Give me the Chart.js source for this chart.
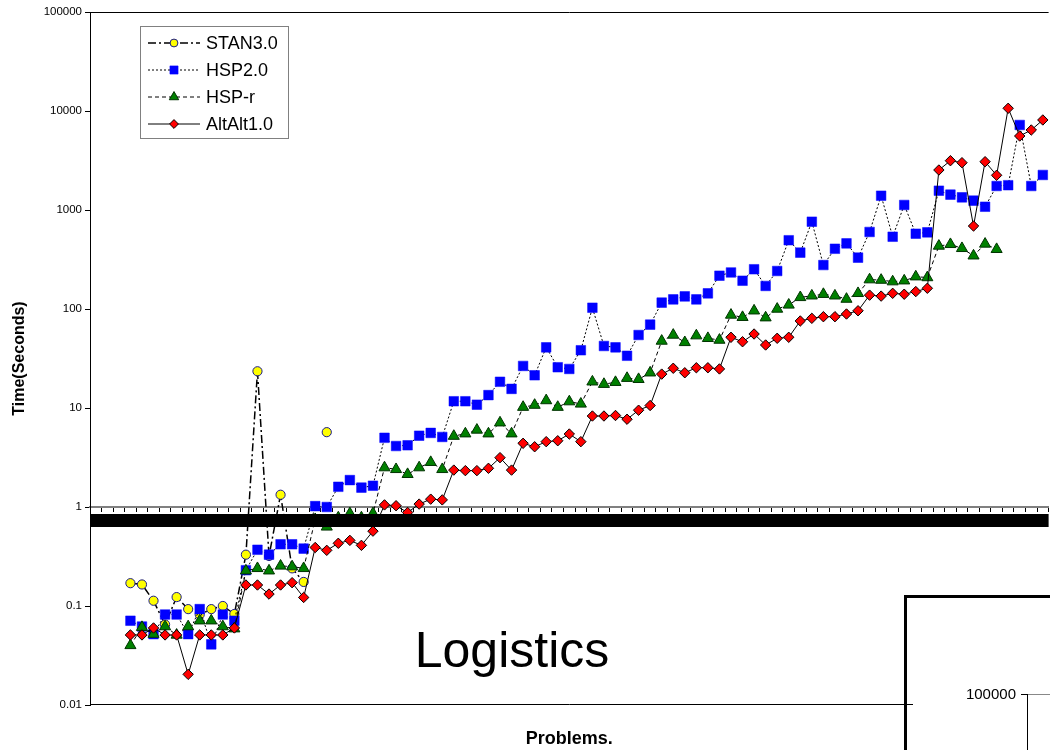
<!DOCTYPE html>
<html>
<head>
<meta charset="utf-8">
<script src="https://cdn.jsdelivr.net/npm/chart.js@4.4.1/dist/chart.umd.min.js"></script>
<style>
html,body{margin:0;padding:0;background:#fff;overflow:hidden;width:1050px;height:750px;}
#wrap{position:absolute;left:0;top:0;width:1056px;height:750px;}
#logistics{position:absolute;left:362px;top:625px;width:300px;text-align:center;font:50px/50px "Liberation Sans",Arial,sans-serif;color:#000;}
#insetFrame{position:absolute;left:904px;top:595px;width:200px;height:200px;border-left:3px solid #000;border-top:3px solid #000;}
#insetFill{position:absolute;left:913px;top:598px;width:200px;height:200px;background:#fff;}
#insetLabel{position:absolute;left:950px;top:686px;width:66px;text-align:right;font:15px/16px "Liberation Sans",Arial,sans-serif;color:#000;}
#insetTick{position:absolute;left:1021px;top:694px;width:7px;height:1px;background:#000;}
#insetAxis{position:absolute;left:1027px;top:694px;width:1px;height:60px;background:#000;}
#insetTop{position:absolute;left:1028px;top:694px;width:40px;height:1px;background:#888;}
</style>
</head>
<body>
<div id="wrap"><canvas id="c" width="1056" height="750"></canvas></div>
<div id="logistics">Logistics</div>
<div id="insetFill"></div>
<div id="insetFrame"></div>
<div id="insetLabel">100000</div>
<div id="insetTick"></div>
<div id="insetAxis"></div>
<div id="insetTop"></div>
<script>
// ---- data ----
const problems = [
 "1","2","3","4","5","6","7","8","9","10",
 "11","12","13","14","15","16","17","18","19","20",
 "21","22","23","24","25","26","27","28","29","30",
 "31","32","33","34","35","36","37","38","39","40",
 "41","42","43","44","45","46","47","48","49","50",
 "51","52","53","54","55","56","57","58","59","60",
 "61","62","63","64","65","66","67","68","69","70",
 "71","72","73","74","75","76","77","78","79","80",
 "81","82","83"
];
const yTickValues = [0.01, 0.1, 1, 10, 100, 1000, 10000, 100000];
const yTickLabels = ["0.01", "0.1", "1", "10", "100", "1000", "10000", "100000"];

const stan30 = [null,null,null,
 0.17,0.165,0.113,0.065,0.123,0.093,0.082,0.093,0.10,0.083,
 0.33,23.5,0.32,1.33,0.24,0.175,null,5.7,null,null,
 null,null,null,null,null,null,null,null,null,null,
 null,null,null,null,null,null,null,null,null,null,
 null,null,null,null,null,null,null,null,null,null,
 null,null,null,null,null,null,null,null,null,null,
 null,null,null,null,null,null,null,null,null,null,
 null,null,null,null,null,null,null,null,null,null];
const hsp20 = [null,null,null,
 0.071,0.062,0.052,0.082,0.082,0.052,0.093,0.041,0.082,0.071,
 0.23,0.37,0.33,0.42,0.42,0.38,1.02,1.0,1.6,1.87,
 1.57,1.64,5.0,4.13,4.2,5.25,5.6,5.1,11.7,11.7,
 10.8,13.5,18.4,15.6,26.6,21.4,41,25.8,24.8,38.3,
 103,42.3,41,33.7,54.6,69.5,116,125,134,125,
 144,217,234,193,252,171,242,495,371,762,
 278,406,460,330,600,1394,537,1124,576,595,
 1567,1429,1343,1242,1079,1747,1780,7225,1747,2259];
const hspR = [null,null,null,
 0.040,0.061,0.052,0.062,0.051,0.062,0.071,0.071,0.062,0.059,
 0.227,0.24,0.227,0.254,0.25,0.24,0.75,0.63,0.78,0.86,
 0.78,0.86,2.5,2.4,2.14,2.5,2.83,2.4,5.2,5.5,
 6.0,5.5,7.1,5.5,10.2,10.7,11.9,10.2,11.6,11.0,
 18.4,17.4,18.2,20,19.5,22.7,47.5,54.6,46,53.8,
 50.6,48.6,87,82.5,96,81.7,100,110,131,136,
 141,136,126,144,198,196,189,193,212,208,
 433,450,410,345,454,401,null,null,null,null];
const altAlt10 = [null,null,null,
 0.051,0.051,0.06,0.051,0.051,0.0204,0.051,0.051,0.051,0.06,
 0.163,0.163,0.132,0.163,0.172,0.122,0.39,0.365,0.43,0.46,
 0.41,0.57,1.05,1.03,0.88,1.07,1.2,1.18,2.36,2.33,
 2.33,2.46,3.15,2.36,4.4,4.06,4.57,4.67,5.46,4.57,
 8.3,8.3,8.4,7.7,9.5,10.6,22,25.2,22.7,25.5,
 25.5,24.8,51.8,46.7,55.9,43.3,50.6,51.8,75.7,80.5,
 83.6,83.6,89,96,138,135,144,141,150,162,
 2535,3148,3006,689,3076,2243,10650,5590,6430,8115];

const FONT = '"Liberation Sans", Arial, sans-serif';
Chart.defaults.font.family = FONT;
Chart.defaults.color = '#000';

function marker(ctx, style, x, y, r, fill, stroke, bw) {
  ctx.save();
  ctx.fillStyle = fill; ctx.strokeStyle = stroke; ctx.lineWidth = bw; ctx.setLineDash([]);
  ctx.beginPath();
  if (style === 'circle') {
    ctx.arc(x, y, r, 0, Math.PI * 2);
  } else if (style === 'rect') {
    const s = r * Math.SQRT1_2;
    ctx.rect(x - s, y - s, 2 * s, 2 * s);
  } else if (style === 'triangle') {
    for (let k = 0; k < 3; k++) {
      const a = k * 2 * Math.PI / 3;
      const px = x + Math.sin(a) * r, py = y - Math.cos(a) * r;
      if (k === 0) ctx.moveTo(px, py); else ctx.lineTo(px, py);
    }
    ctx.closePath();
  } else if (style === 'rectRot') {
    ctx.moveTo(x, y - r); ctx.lineTo(x + r, y); ctx.lineTo(x, y + r); ctx.lineTo(x - r, y); ctx.closePath();
  }
  ctx.fill();
  if (bw > 0) ctx.stroke();
  ctx.restore();
}

const decor = {
  id: 'decor',
  beforeDatasetsDraw(chart) {
    const {ctx, chartArea: a} = chart;
    ctx.save();
    ctx.strokeStyle = '#000';
    ctx.lineWidth = 1;
    ctx.beginPath();
    ctx.moveTo(a.left, a.top + 0.5); ctx.lineTo(a.right, a.top + 0.5);
    ctx.moveTo(a.left, a.bottom - 0.5); ctx.lineTo(a.right, a.bottom - 0.5);
    ctx.stroke();
    ctx.restore();
  },
  afterDatasetsDraw(chart) {
    const {ctx, chartArea: a} = chart;
    const y1 = chart.scales.y.getPixelForValue(1);
    ctx.save();
    // overprinted problem-label band under the category axis
    ctx.fillStyle = '#000';
    ctx.fillRect(a.left, y1 + 7, a.right - a.left, 13);
    // legend
    const bx = 140, by = 26, bw = 148, bh = 112;
    ctx.fillStyle = '#fff';
    ctx.fillRect(bx, by, bw, bh);
    ctx.strokeStyle = '#808080';
    ctx.lineWidth = 1;
    ctx.strokeRect(bx + 0.5, by + 0.5, bw, bh);
    ctx.font = '18px ' + FONT;
    ctx.textBaseline = 'middle';
    ctx.textAlign = 'left';
    chart.data.datasets.forEach((ds, i) => {
      const ry = by + 17 + i * 27;
      ctx.save();
      ctx.strokeStyle = ds.borderColor;
      ctx.lineWidth = ds.borderWidth;
      ctx.setLineDash(ds.borderDash || []);
      ctx.beginPath();
      ctx.moveTo(bx + 8, ry); ctx.lineTo(bx + 60, ry);
      ctx.stroke();
      ctx.restore();
      marker(ctx, ds.pointStyle, bx + 34, ry, ds.pointRadius * 0.85, ds.pointBackgroundColor, ds.pointBorderColor, ds.pointBorderWidth);
      ctx.fillStyle = '#000';
      ctx.fillText(ds.label, bx + 66, ry + 1);
    });
    ctx.restore();
  }
};

new Chart(document.getElementById('c'), {
  type: 'line',
  data: {
    labels: problems,
    datasets: [
      { label: 'STAN3.0', data: stan30, order: 4,
        borderColor: '#000', borderWidth: 1.5, borderDash: [8, 3, 2, 3],
        pointStyle: 'circle', pointRadius: 4.6, pointBackgroundColor: '#ffff00', pointBorderColor: '#1a1a8c', pointBorderWidth: 1 },
      { label: 'HSP2.0', data: hsp20, order: 3,
        borderColor: '#000', borderWidth: 1, borderDash: [2, 2],
        pointStyle: 'rect', pointRadius: 6.8, pointBackgroundColor: '#0000ff', pointBorderColor: '#0000ff', pointBorderWidth: 0.5 },
      { label: 'HSP-r', data: hspR, order: 2,
        borderColor: '#000', borderWidth: 1, borderDash: [4, 3],
        pointStyle: 'triangle', pointRadius: 6.4, pointBackgroundColor: '#008000', pointBorderColor: '#003300', pointBorderWidth: 1 },
      { label: 'AltAlt1.0', data: altAlt10, order: 1,
        borderColor: '#000', borderWidth: 1, borderDash: [],
        pointStyle: 'rectRot', pointRadius: 5.2, pointBackgroundColor: '#ff0000', pointBorderColor: '#000', pointBorderWidth: 1 }
    ]
  },
  options: {
    responsive: false,
    animation: false,
    events: [],
    spanGaps: false,
    layout: { padding: { top: 12, left: 0, right: 0, bottom: 0 } },
    elements: { line: { tension: 0, fill: false } },
    plugins: {
      legend: { display: false },
      tooltip: { enabled: false },
      title: {
        display: true, text: 'Problems.', position: 'bottom', fullSize: false,
        font: { size: 18, weight: 'bold' }, color: '#000',
        padding: { top: 23, bottom: 0.4 }
      }
    },
    scales: {
      x: {
        type: 'category',
        position: { y: 1 },
        offset: true,
        border: { display: true, color: '#808080', width: 2 },
        grid: { display: true, drawOnChartArea: false, drawTicks: true, tickLength: 4, color: '#000', offset: true },
        ticks: { display: false, autoSkip: false },
        afterFit(scale) { scale.height = 4; }
      },
      y: {
        type: 'logarithmic',
        position: 'left',
        min: 0.01, max: 100000,
        border: { display: true, color: '#000', width: 1 },
        grid: { display: true, drawOnChartArea: false, drawTicks: true, tickLength: 5, color: '#000' },
        afterBuildTicks(scale) { scale.ticks = yTickValues.map(v => ({ value: v })); },
        ticks: {
          font: { size: 11.5 }, color: '#000', padding: 3,
          callback: (v, i) => yTickLabels[i]
        },
        title: { display: true, text: 'Time(Seconds)', font: { size: 16, weight: 'bold' }, color: '#000', padding: { top: 10, bottom: 0 } },
        afterFit(scale) { scale.width = 90; }
      }
    }
  },
  plugins: [decor]
});
</script>
</body>
</html>
